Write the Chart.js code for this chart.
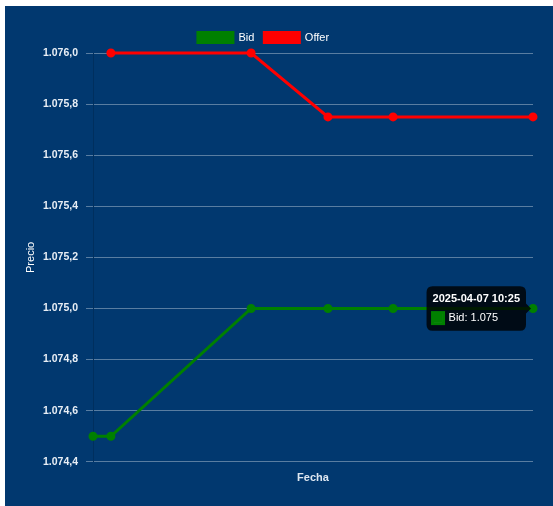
<!DOCTYPE html>
<html>
<head>
<meta charset="utf-8">
<script src="https://cdn.jsdelivr.net/npm/chart.js@4.4.1/dist/chart.umd.min.js"></script>
<style>
  body { margin: 0; background: #fff; }
  #wrap { position: absolute; left: 5px; top: 6px; width: 548px; height: 500px; background: #01386f; }
</style>
</head>
<body>
<div id="wrap"><canvas id="priceChart"></canvas></div>
<script>
const fecha = '2025-04-07';
const horas = ['10:00:00', '10:01:01', '10:08:59', '10:13:21', '10:17:03', '10:25:00'];
const bidValues = [1.0745, 1.0745, 1.0750, 1.0750, 1.0750, 1.0750];
const offerValues = [null, 1.0760, 1.0760, 1.07575, 1.07575, 1.07575];
const yTicks = ['1.074,4', '1.074,6', '1.074,8', '1.075,0', '1.075,2', '1.075,4', '1.075,6', '1.075,8', '1.076,0'];

// time of day -> seconds, so the x axis keeps real spacing
function toSeconds(h) {
  const p = h.split(':').map(Number);
  return p[0] * 3600 + p[1] * 60 + p[2];
}
const xs = horas.map(toSeconds);

function pairs(values) {
  return values.map((v, i) => ({ x: xs[i], y: v }));
}

// legend sits a little left of centre in the original
const legendShift = {
  id: 'legendShift',
  afterLayout(chart) {
    chart.legend.left -= 13;
    chart.legend.right -= 13;
  }
};

const ctx = document.getElementById('priceChart').getContext('2d');
Chart.defaults.font.family = 'Arial, "Liberation Sans", sans-serif';
Chart.defaults.font.size = 11;
Chart.defaults.color = '#ffffff';

const chart = new Chart(ctx, {
  type: 'line',
  data: {
    datasets: [
      {
        label: 'Bid',
        data: pairs(bidValues),
        borderColor: 'green',
        backgroundColor: 'green',
        borderWidth: 3,
        pointRadius: 3,
        clip: false
      },
      {
        label: 'Offer',
        data: pairs(offerValues),
        borderColor: 'red',
        backgroundColor: 'red',
        borderWidth: 3,
        pointRadius: 3,
        clip: false
      }
    ]
  },
  options: {
    responsive: true,
    maintainAspectRatio: false,
    animation: false,
    layout: { padding: { left: 15, top: 16, right: 20, bottom: 17 } },
    scales: {
      x: {
        type: 'linear',
        min: xs[0],
        max: xs[xs.length - 1],
        ticks: { display: false },
        grid: { display: false, drawTicks: false },
        border: { display: false },
        title: {
          display: true,
          text: 'Fecha',
          color: '#dde6f0',
          font: { weight: 'bold' },
          padding: { top: 10, bottom: 4 }
        }
      },
      y: {
        min: 1.0744,
        max: 1.0760,
        afterFit: function(scale) {
          scale.width = 73;
        },
        ticks: {
          stepSize: 0.0002,
          padding: 8,
          color: '#e8eef5',
          font: { weight: 'bold', size: 10.5 },
          callback: function(value) {
            const i = Math.round((value - 1.0744) / 0.0002);
            return yTicks[i];
          }
        },
        grid: { color: 'rgba(255,255,255,0.35)', tickLength: 7 },
        border: { color: 'rgba(0,0,0,0.15)' },
        title: {
          display: true,
          text: 'Precio',
          color: '#ffffff'
        }
      }
    },
    plugins: {
      legend: {
        display: true,
        position: 'top',
        labels: { color: '#ffffff', boxWidth: 35, boxHeight: 10 }
      },
      tooltip: {
        boxPadding: 3,
        callbacks: {
          title: function(items) {
            return fecha + ' ' + horas[items[0].dataIndex].slice(0, 5);
          },
          label: function(item) {
            return item.dataset.label + ': ' + item.raw.y.toFixed(3);
          }
        }
      }
    }
  },
  plugins: [legendShift]
});

// show the tooltip on the last Bid point, as in the reference
const last = bidValues.length - 1;
const pt = chart.getDatasetMeta(0).data[last];
chart.tooltip.setActiveElements([{ datasetIndex: 0, index: last }], { x: pt.x, y: pt.y });
chart.update();
</script>
</body>
</html>
